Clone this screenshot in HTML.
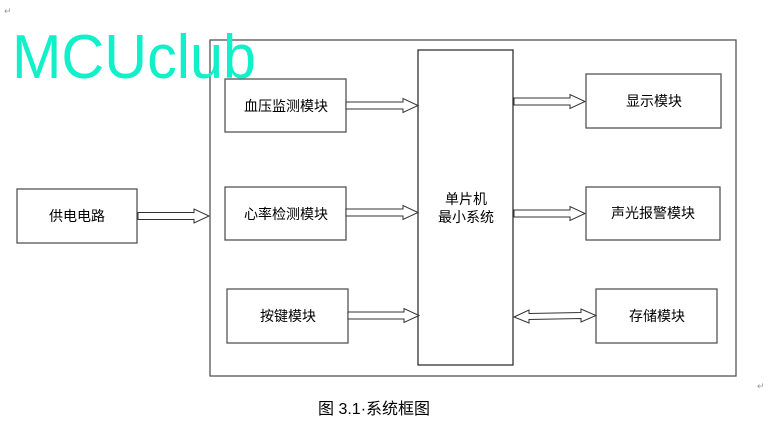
<!DOCTYPE html>
<html><head><meta charset="utf-8"><style>
html,body{margin:0;padding:0;background:#fff;}
svg{display:block;}
text{font-family:"Liberation Sans","Noto Sans CJK SC",sans-serif;}
</style></head><body>
<svg width="782" height="433" viewBox="0 0 782 433" xmlns="http://www.w3.org/2000/svg">
<g fill="none" stroke="#555" stroke-width="1.3">
<rect x="210" y="40" width="526" height="336"/>
<rect x="17" y="189" width="120" height="54"/>
<rect x="225" y="79" width="121" height="53"/>
<rect x="225" y="187" width="121" height="53"/>
<rect x="227" y="289" width="121" height="54"/>
<rect x="418" y="50" width="95" height="315" stroke="#333"/>
<rect x="586" y="74" width="135" height="54"/>
<rect x="586" y="187" width="134" height="53"/>
<rect x="596" y="289" width="121" height="54"/>
</g>
<g fill="#fff" stroke="#333" stroke-width="1">
<polygon points="138,212.5 194,212.5 194,209 209,216 194,223 194,219.5 138,219.5"/>
<polygon points="346,102 403,102 403,98.5 418,105.5 403,112.5 403,109 346,109"/>
<polygon points="346,209 403,209 403,205.5 418,212.5 403,219.5 403,216 346,216"/>
<polygon points="348,312 404,312 404,308.5 419,315.5 404,322.5 404,319 348,319"/>
<polygon points="514,98 570,98 570,94.5 585,101.5 570,108.5 570,105 514,105"/>
<polygon points="514,210 570,210 570,206.5 585,213.5 570,220.5 570,217 514,217"/>
<polygon points="514,317 529,310 529,313.5 581,312.5 581,309 596,315.5 581,322 581,318.5 529,319.5 529,323"/>
</g>
<g font-size="14" fill="#000" text-anchor="middle">
<text x="77" y="221">供电电路</text>
<text x="286" y="111">血压监测模块</text>
<text x="286" y="219">心率检测模块</text>
<text x="288" y="321">按键模块</text>
<text x="466" y="204">单片机</text>
<text x="466" y="222">最小系统</text>
<text x="654" y="106">显示模块</text>
<text x="653" y="218">声光报警模块</text>
<text x="657" y="321">存储模块</text>
</g>
<text x="318" y="414" font-size="16" fill="#000">图 3.1·系统框图</text>
<text x="4" y="14" font-size="9" fill="#999">↵</text>
<text x="757" y="389" font-size="9" fill="#999">↵</text>
<text x="12" y="78" font-size="62" fill="#11f0c8" textLength="244" lengthAdjust="spacingAndGlyphs">MCUclub</text>
</svg>
</body></html>
